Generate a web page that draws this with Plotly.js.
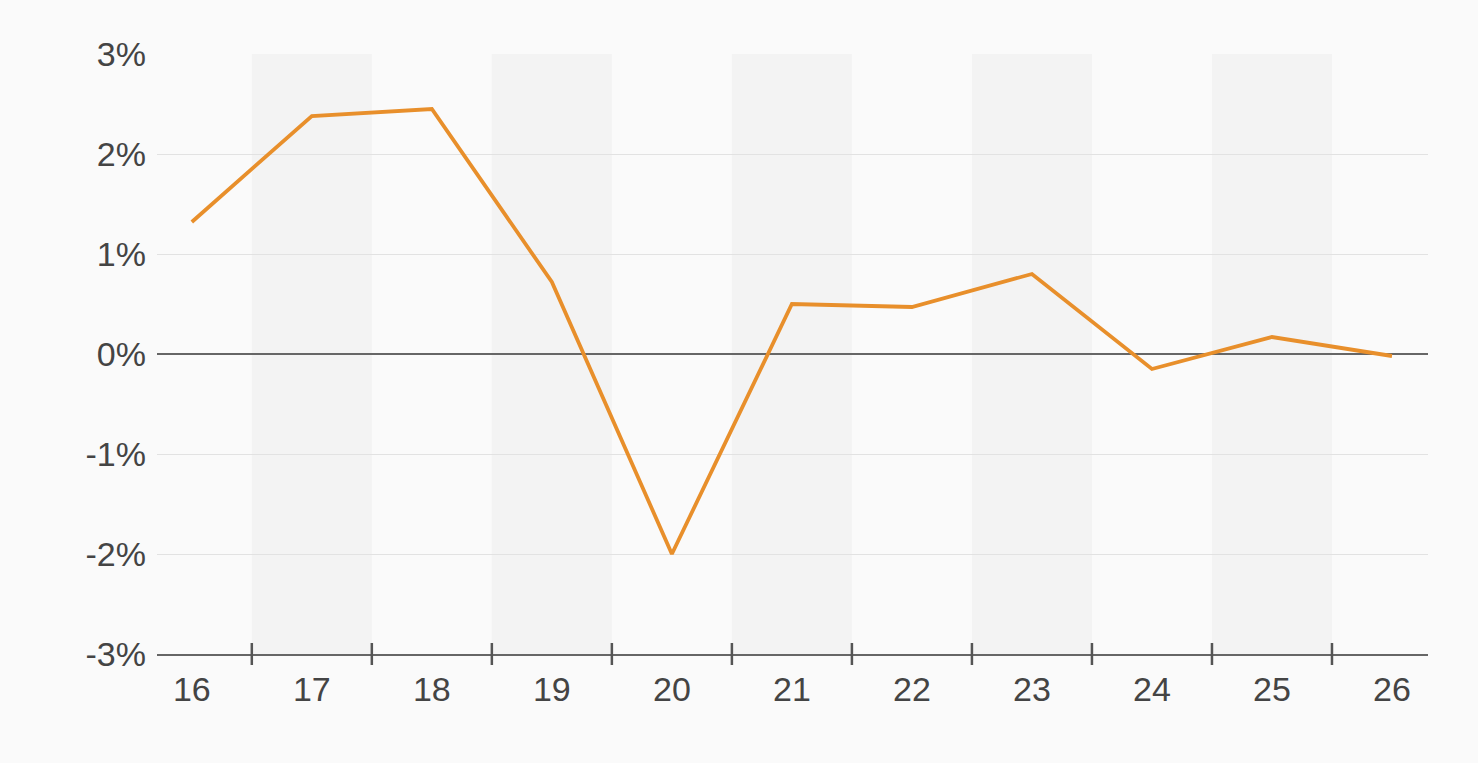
<!DOCTYPE html>
<html>
<head>
<meta charset="utf-8">
<script src="https://cdn.plot.ly/plotly-3.0.1.min.js"></script>
<style>html,body{margin:0;padding:0;background:#fafafa;}#chart{width:1478px;height:763px;}</style>
</head>
<body>
<div id="chart"></div>
<script>
const years = [16, 17, 18, 19, 20, 21, 22, 23, 24, 25, 26];
const values = [1.32, 2.38, 2.45, 0.72, -2.0, 0.50, 0.47, 0.80, -0.15, 0.17, -0.02];
const yTickVals = [-3, -2, -1, 0, 1, 2, 3];
const yTickText = ['-3%', '-2%', '-1%', '0%', '1%', '2%', '3%'];
const shadedYears = [17, 19, 21, 23, 25];

const shapes = [];
shadedYears.forEach(function (yr) {
  shapes.push({type: 'rect', xref: 'x', yref: 'paper', x0: yr - 0.5, x1: yr + 0.5, y0: 0, y1: 1,
    fillcolor: '#f3f3f3', line: {width: 0}, layer: 'below'});
});
for (let i = 0; i < years.length - 1; i++) {
  const xm = (years[i] + years[i + 1]) / 2;
  shapes.push({type: 'line', xref: 'x', yref: 'paper', ysizemode: 'pixel', yanchor: 0,
    x0: xm, x1: xm, y0: -11, y1: 11, line: {color: '#555', width: 2.5}, layer: 'above'});
}

Plotly.newPlot('chart', [{
  x: years, y: values, type: 'scatter', mode: 'lines',
  line: {color: '#e88f2b', width: 3.8}, hoverinfo: 'x+y'
}], {
  width: 1478, height: 763,
  paper_bgcolor: '#fafafa', plot_bgcolor: '#fafafa',
  margin: {l: 157, r: 50, t: 54, b: 109},
  font: {family: 'Liberation Sans, Arial, sans-serif', size: 34, color: '#444'},
  showlegend: false,
  xaxis: {range: [15.71, 26.3], tickvals: years, ticktext: years.map(String), showgrid: false,
    zeroline: false, showline: true, linecolor: '#666', linewidth: 2, ticks: '',
    ticklabelstandoff: 4, tickfont: {size: 34, color: '#444'}},
  yaxis: {range: [-3, 3], tickvals: yTickVals, ticktext: yTickText, showgrid: true,
    gridcolor: '#e2e2e2', gridwidth: 1, zeroline: true, zerolinecolor: '#666', zerolinewidth: 2,
    showline: false, ticks: '', ticklabelstandoff: 10, tickfont: {size: 34, color: '#444'}},
  shapes: shapes
}, {displayModeBar: false, staticPlot: true});
</script>
</body>
</html>
